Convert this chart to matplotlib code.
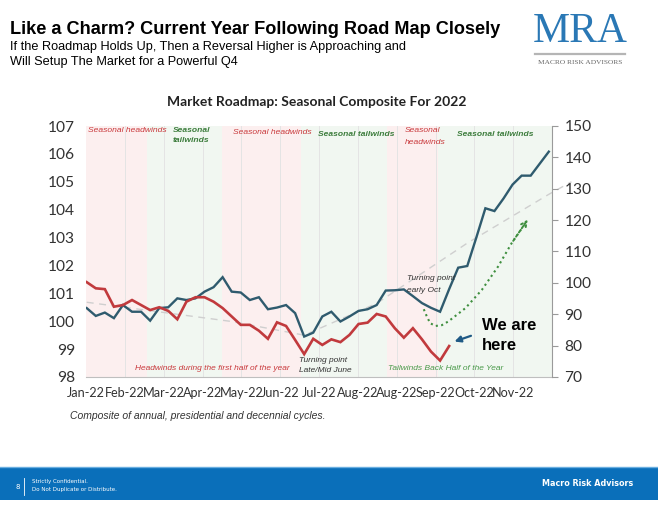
import numpy as np
import matplotlib
matplotlib.use("Agg")
import matplotlib.pyplot as plt
from matplotlib.patches import Rectangle
from matplotlib.lines import Line2D

# ---------------- data ----------------
month_labels = ["Jan-22", "Feb-22", "Mar-22", "Apr-22", "May-22", "Jun-22",
                "Jul-22", "Aug-22", "Aug-22", "Sep-22", "Oct-22", "Nov-22"]

# seasonal composite (weekly), left axis units
composite = [100.47, 100.19, 100.31, 100.11, 100.58, 100.34, 100.34, 100.02,
             100.47, 100.50, 100.82, 100.76, 100.82, 101.06, 101.22, 101.58,
             101.06, 101.03, 100.76, 100.86, 100.43, 100.49, 100.58, 100.29,
             99.45, 99.59, 100.17, 100.34, 99.99, 100.17, 100.37, 100.43,
             100.58, 101.10, 101.11, 101.14, 100.90, 100.65, 100.48, 100.34,
             101.15, 101.92, 101.98, 103.00, 104.05, 103.95, 104.40, 104.90,
             105.22, 105.22, 105.65, 106.08]

# current year 2022 (weekly), left axis units
current_2022 = [101.40, 101.18, 101.15, 100.52, 100.58, 100.76, 100.58, 100.40,
                100.50, 100.37, 100.07, 100.70, 100.86, 100.86, 100.70, 100.47,
                100.17, 99.87, 99.87, 99.66, 99.37, 99.96, 99.83, 99.33,
                98.82, 99.37, 99.15, 99.35, 99.25, 99.51, 99.90, 99.95,
                100.26, 100.17, 99.75, 99.41, 99.75, 99.35, 98.91, 98.59, 99.11]

# grey dashed trend (week, value)
trend_weeks = [0, 16, 24, 32, 42, 51, 53.5]
trend_vals = [100.68, 99.99, 99.50, 100.64, 102.80, 104.55, 105.0]

# green dotted projected path (week, value)
proj_weeks = [37.2, 37.5, 37.9, 38.5, 39.2, 39.9, 41.8, 43.6, 45.4, 46.9, 48.5]
proj_vals = [100.43, 100.20, 99.93, 99.83, 99.86, 99.99, 100.47, 101.12, 101.96, 102.80, 103.55]

# seasonal regimes (start week, end week, kind)
regime_starts = [-1.0, 6.7, 14.9, 23.7, 33.1, 38.8]
regime_ends = [6.7, 14.9, 23.7, 33.1, 38.8, 53.0]
regime_kinds = ["head", "tail", "head", "tail", "head", "tail"]

left_ticks = list(range(98, 108))
right_ticks = list(range(70, 151, 10))

# ---------------- figure ----------------
W, H = 658, 507
fig = plt.figure(figsize=(W / 100, H / 100), dpi=100)
fig.patch.set_facecolor("white")

def fx(px):
    return px / W

def fy(py):
    return 1 - py / H

ax = fig.add_axes([fx(86), fy(377), fx(552) - fx(86), fy(126) - fy(377)])
weeks_per_month = 4.286
x0 = -0.08
ax.set_xlim(x0, x0 + 12 * weeks_per_month)
ax.set_ylim(98, 107)

tick_font = "Lato"
head_col = "#fcefef"
tail_col = "#f1f7f1"
for s, e, k in zip(regime_starts, regime_ends, regime_kinds):
    ax.axvspan(s, e, color=head_col if k == "head" else tail_col, lw=0, zorder=0)

month_pos = [x0 + k * weeks_per_month for k in range(len(month_labels))]
for p in month_pos[1:]:
    ax.axvline(p, color="#e4e4e4", lw=0.7, zorder=0.5)

ax.plot(trend_weeks, trend_vals, color="#cfcfcf", lw=1.0, ls=(0, (5, 4)), zorder=1, clip_on=False)

wk_c = np.arange(len(composite))
wk_r = np.arange(len(current_2022))
ax.plot(wk_c, composite, color="#2f5b6e", lw=1.7, zorder=3, solid_joinstyle="miter")
ax.plot(wk_r, current_2022, color="#c13a3d", lw=1.9, zorder=3, solid_joinstyle="miter")

# projected dotted path with arrowhead
ax.plot(proj_weeks, proj_vals, color="#3f8f3f", lw=1.5, ls=(0, (1, 1.6)), zorder=2)
ax.annotate("", xy=(proj_weeks[-1] + 0.35, proj_vals[-1] + 0.18),
            xytext=(proj_weeks[-2], proj_vals[-2]),
            arrowprops=dict(arrowstyle="->", color="#3f8f3f", lw=1.4,
                            linestyle=(0, (1, 1.6)), mutation_scale=10), zorder=2)

# ticks / spines
ax.set_xticks(month_pos)
ax.set_xticklabels(month_labels, fontsize=9.1, color="#333333", family=tick_font)
ax.set_yticks(left_ticks)
ax.set_yticklabels([str(t) for t in left_ticks], fontsize=11.2, color="#333333", family=tick_font)
ax.tick_params(axis="both", length=0, pad=7)
ax.tick_params(axis="y", pad=8)
for sp in ["top", "left", "right"]:
    ax.spines[sp].set_visible(False)
ax.spines["bottom"].set_color("#bfbfbf")
ax.spines["bottom"].set_linewidth(0.8)

ax2 = ax.twinx()
ax2.set_ylim(70, 150)
ax2.set_yticks(right_ticks)
ax2.set_yticklabels([str(t) for t in right_ticks], fontsize=11.2, color="#333333", family=tick_font)
ax2.tick_params(axis="y", length=4, color="#9a9a9a", width=0.8, pad=5)
for sp in ["top", "left", "bottom"]:
    ax2.spines[sp].set_visible(False)
ax2.spines["right"].set_color("#9a9a9a")
ax2.spines["right"].set_linewidth(0.8)

# ---------------- in-chart annotations ----------------
red_txt = "#c9393c"
green_txt = "#3d7d3d"
af = "Liberation Sans"
sz = 6.1
sz2 = 6.0

def note(px, py, s, color, bold=False, size=sz):
    fig.text(fx(px), fy(py), s, color=color, style="italic", weight="bold" if bold else "normal",
             fontsize=size, va="center", family=af)

note(88, 131, "Seasonal headwinds", red_txt)
note(173, 130, "Seasonal", green_txt, True)
note(173, 141, "tailwinds", green_txt, True)
note(233, 132, "Seasonal headwinds", red_txt)
note(318, 134, "Seasonal tailwinds", green_txt, True)
note(405, 131, "Seasonal", red_txt)
note(405, 142, "headwinds", red_txt)
note(457, 134, "Seasonal tailwinds", green_txt, True)

note(135, 369, "Headwinds during the first half of the year", red_txt, size=sz2)
note(299, 360, "Turning point", "#333333", size=sz2)
note(299, 370, "Late/Mid June", "#333333", size=sz2)
note(388, 369, "Tailwinds Back Half of the Year", "#4a9a4a", size=sz2)
note(407, 278, "Turning point", "#333333", size=sz2)
note(407, 290, "early Oct", "#333333", size=sz2)

fig.text(fx(482), fy(325), "We are", color="black", weight="bold", fontsize=12, va="center", family="Liberation Sans")
fig.text(fx(482), fy(345), "here", color="black", weight="bold", fontsize=12, va="center", family="Liberation Sans")
ax.annotate("", xy=(40.3, 99.24), xytext=(42.7, 99.51),
            arrowprops=dict(arrowstyle="-|>", color="#1f5a85", lw=1.6, mutation_scale=9), zorder=4)

# chart title
fig.text(fx(317), fy(102), "Market Roadmap: Seasonal Composite For 2022", ha="center", va="center",
         fontsize=10, weight="bold", color="#222222", family="Lato")

# caption
fig.text(fx(70), fy(416), "Composite of annual, presidential and decennial cycles.", style="italic",
         fontsize=7.5, color="#333333", va="center", family="Liberation Sans")

# ---------------- header ----------------
fig.text(fx(10), fy(30), "Like a Charm? Current Year Following Road Map Closely", fontsize=13.1,
         weight="bold", color="black", va="center", family="Liberation Sans")
fig.text(fx(10), fy(47), "If the Roadmap Holds Up, Then a Reversal Higher is Approaching and",
         fontsize=9.15, color="black", va="center", family="Liberation Sans")
fig.text(fx(10), fy(62), "Will Setup The Market for a Powerful Q4",
         fontsize=9.15, color="black", va="center", family="Liberation Sans")

fig.text(fx(580), fy(32), "MRA", fontsize=30, color="#2a78b5", ha="center", va="center", family="Liberation Serif")
fig.add_artist(Line2D([fx(535), fx(625)], [fy(54), fy(54)], color="#b5b5b5", lw=1.6))
fig.text(fx(580), fy(62), "MACRO RISK ADVISORS", fontsize=5.3, color="#666666", ha="center", va="center", family="Liberation Serif")

# ---------------- footer ----------------
fig.add_artist(Rectangle((0, fy(500)), 1, fy(467) - fy(500), transform=fig.transFigure,
                         facecolor="#0a6fba", edgecolor="none"))
fig.add_artist(Line2D([0, 1], [fy(467), fy(467)], color="#6aaee0", lw=1.0))
fig.text(fx(15), fy(487), "8", fontsize=5, color="white", va="center")
fig.add_artist(Line2D([fx(24), fx(24)], [fy(478), fy(495)], color="white", lw=0.6))
fig.text(fx(32), fy(482), "Strictly Confidential.", fontsize=4, color="white", va="center")
fig.text(fx(32), fy(490), "Do Not Duplicate or Distribute.", fontsize=4, color="white", va="center")
fig.text(fx(633), fy(484), "Macro Risk Advisors", fontsize=5.8, color="white", weight="bold", ha="right", va="center")

fig.savefig("out.png", dpi=100)
